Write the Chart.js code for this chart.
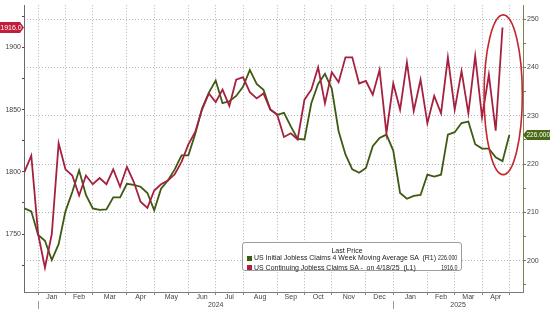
<!DOCTYPE html>
<html>
<head>
<meta charset="utf-8">
<script src="https://cdn.jsdelivr.net/npm/chart.js@4.4.1/dist/chart.umd.min.js"></script>
<style>
  html, body { margin: 0; padding: 0; background: #fff; }
  #wrap { position: relative; width: 550px; height: 309px; overflow: hidden; }
  #legend {
    position: absolute; left: 242px; top: 242px; width: 220px; height: 29px;
    box-sizing: border-box; border: 1px solid #9c9c9c; border-radius: 3px; background: #fff;
    font: 7px 'Liberation Sans', Arial, sans-serif; color: #222; line-height: 8px;
  }
  #legend .title { position: absolute; top: 4px; left: 0; right: 10px; text-align: center; }
  #legend .row { position: absolute; left: 4px; right: 4px; height: 8px; white-space: pre; }
  #legend .sw { position: absolute; left: 0; top: 1.5px; width: 5px; height: 5px; }
  #legend .name { position: absolute; left: 6.5px; transform-origin: left center; }
  #legend .val { position: absolute; right: 0; transform-origin: right center; transform: scaleX(0.76); }
</style>
</head>
<body>
<div id="wrap">
  <canvas id="chart" width="550" height="309"></canvas>
  <div id="legend">
    <div class="title">Last Price</div>
    <div class="row" style="top:11px"><span class="sw" style="background:#3d5a10"></span><span class="name">US Initial Jobless Claims 4 Week Moving Average SA  (R1)</span><span class="val" id="valR1"></span></div>
    <div class="row" style="top:20.5px"><span class="sw" style="background:#b01f3d"></span><span class="name">US Continuing Jobless Claims SA -  on 4/18/25  (L1)</span><span class="val" id="valL1"></span></div>
  </div>
</div>
<script>
// Weekly values, thousands
const continuingClaims = [
  1800, 1813, 1750, 1723, 1750, 1823, 1802, 1797, 1781, 1797,
  1790, 1795, 1790, 1802, 1788, 1804, 1792, 1776, 1771, 1785,
  1790, 1793, 1798, 1808, 1822, 1832, 1850, 1863, 1856, 1866,
  1853, 1874, 1876, 1864, 1859, 1863, 1850, 1846, 1828, 1831,
  1826, 1858, 1866, 1884, 1855, 1880, 1872, 1892, 1892, 1871,
  1873, 1862, 1882, 1831, 1871, 1850, 1888, 1849, 1874, 1839,
  1861, 1847, 1892, 1850, 1881, 1847, 1893, 1844, 1878, 1833, 1916
];
const initialClaims4wk = [
  210.8, 210.2, 205.3, 204.1, 200.1, 203.4, 210.2, 214.2, 218.7, 213.6,
  210.8, 210.5, 210.6, 213.1, 213.1, 215.9, 215.7, 215.3, 214.0, 210.4,
  214.9, 216.6, 218.9, 221.8, 221.8, 226.2, 231.5, 234.8, 237.3, 232.6,
  233.0, 234.1, 236.0, 239.5, 236.6, 235.4, 231.3, 230.2, 230.6, 227.8,
  225.2, 225.1, 232.6, 236.6, 238.7, 235.6, 226.8, 222.0, 218.9, 218.2,
  219.2, 223.7, 225.4, 226.1, 222.8, 214.0, 212.8, 213.4, 213.6, 217.8,
  217.4, 217.8, 226.1, 226.6, 228.5, 228.8, 224.1, 223.2, 223.2, 221.4,
  220.6, 226.0
];

// x axis: week number, first week of each month
const monthLabels = ["Jan", "Feb", "Mar", "Apr", "May", "Jun", "Jul", "Aug", "Sep", "Oct", "Nov", "Dec", "Jan", "Feb", "Mar", "Apr"];
const monthStartWeek = [2, 6, 10, 15, 19, 24, 28, 32, 37, 41, 45, 50, 54, 59, 63, 67, 71];
const yearLabels = ["2024", "2025"];
const yearStartWeek = [2, 54];

const leftTicks = [1725, 1750, 1775, 1800, 1825, 1850, 1875, 1900, 1925];
const rightTicks = [195, 200, 205, 210, 215, 220, 225, 230, 235, 240, 245, 250];

const X_MIN = -0.07, X_MAX = 73;

const monthMid = monthLabels.map((m, i) => (monthStartWeek[i] + monthStartWeek[i + 1]) / 2);
const yearMid = yearStartWeek.map((w, i) => (w + (i + 1 < yearStartWeek.length ? yearStartWeek[i + 1] : X_MAX)) / 2);

const lastL1 = continuingClaims[continuingClaims.length - 1];
const lastR1 = initialClaims4wk[initialClaims4wk.length - 1];
document.getElementById("valR1").textContent = lastR1.toFixed(3);
document.getElementById("valL1").textContent = lastL1.toFixed(1);

// squeeze legend names if the font runs wide
const names = document.querySelectorAll("#legend .name");
const squeeze = Math.min(1, 182 / names[0].getBoundingClientRect().width);
names.forEach(n => { n.style.transform = "scaleX(" + squeeze + ")"; });

Chart.defaults.font.family = "'Liberation Sans', Arial, sans-serif";
Chart.defaults.font.size = 7;
Chart.defaults.color = "#444";

// month / year labels, value tags, highlight ellipse, year separators
const extras = {
  id: "extras",
  afterDraw(chart) {
    const { ctx, scales } = chart;
    const x = scales.x, yl = scales.y, yr = scales.y1;
    ctx.save();

    // month and year labels under the axis
    ctx.fillStyle = "#444";
    ctx.font = "7px 'Liberation Sans', Arial, sans-serif";
    ctx.textAlign = "center";
    ctx.textBaseline = "middle";
    monthLabels.forEach((m, i) => ctx.fillText(m, x.getPixelForValue(monthMid[i]), 297.5));
    yearLabels.forEach((m, i) => ctx.fillText(m, x.getPixelForValue(yearMid[i]), 305.5));

    // year separators
    ctx.strokeStyle = "#999";
    ctx.lineWidth = 1;
    yearStartWeek.forEach(w => {
      const px = Math.round(x.getPixelForValue(w)) + 0.5;
      ctx.beginPath();
      ctx.moveTo(px, 301);
      ctx.lineTo(px, 309);
      ctx.stroke();
    });

    // red circle around the latest weeks
    const cx = (x.getPixelForValue(67.3) + x.getPixelForValue(72.9)) / 2;
    const rx = (x.getPixelForValue(72.9) - x.getPixelForValue(67.3)) / 2;
    const top = yr.getPixelForValue(250.9), bot = yr.getPixelForValue(217.8);
    ctx.beginPath();
    ctx.ellipse(cx, (top + bot) / 2, rx, (bot - top) / 2, 0, 0, Math.PI * 2);
    ctx.strokeStyle = "#c3262f";
    ctx.lineWidth = 1.6;
    ctx.stroke();

    // left tag
    let y = yl.getPixelForValue(lastL1);
    ctx.beginPath();
    ctx.moveTo(0, y - 5.5); ctx.lineTo(20, y - 5.5); ctx.lineTo(24, y);
    ctx.lineTo(20, y + 5.5); ctx.lineTo(0, y + 5.5); ctx.closePath();
    ctx.fillStyle = "#c21d3b";
    ctx.fill();
    ctx.fillStyle = "#fff";
    ctx.fillText(lastL1.toFixed(1), 11, y + 0.5);

    // right tag
    y = yr.getPixelForValue(lastR1);
    ctx.beginPath();
    ctx.moveTo(523, y); ctx.lineTo(527, y - 5); ctx.lineTo(550, y - 5);
    ctx.lineTo(550, y + 5); ctx.lineTo(527, y + 5); ctx.closePath();
    ctx.fillStyle = "#4b6a18";
    ctx.fill();
    ctx.fillStyle = "#fff";
    ctx.font = "6.5px 'Liberation Sans', Arial, sans-serif";
    ctx.textAlign = "left";
    ctx.fillText(lastR1.toFixed(3), 526.5, y + 0.5);
    ctx.restore();
  }
};

new Chart(document.getElementById("chart"), {
  type: "line",
  data: {
    datasets: [
      {
        label: "US Continuing Jobless Claims SA",
        data: continuingClaims.map((v, i) => ({ x: i, y: v })),
        yAxisID: "y",
        borderColor: "#a5213f",
        borderWidth: 1.8,
        pointRadius: 0,
        tension: 0
      },
      {
        label: "US Initial Jobless Claims 4 Week Moving Average SA",
        data: initialClaims4wk.map((v, i) => ({ x: i, y: v })),
        yAxisID: "y1",
        borderColor: "#3e5a12",
        borderWidth: 1.8,
        pointRadius: 0,
        tension: 0
      }
    ]
  },
  options: {
    responsive: false,
    animation: false,
    devicePixelRatio: 1,
    layout: { padding: 0 },
    plugins: { legend: { display: false }, tooltip: { enabled: false } },
    scales: {
      x: {
        type: "linear", min: X_MIN, max: X_MAX,
        afterBuildTicks: s => { s.ticks = monthStartWeek.map(v => ({ value: v })); },
        afterFit: s => { s.height = 17; },
        ticks: { display: false },
        grid: { color: "#b4b4b4", tickColor: "#888", tickLength: 3, tickBorderDash: [] },
        border: { display: true, color: "#7a7a7a", dash: [1, 2] }
      },
      y: {
        type: "linear", position: "left", min: 1703.4, max: 1933.9,
        afterBuildTicks: s => { s.ticks = leftTicks.map(v => ({ value: v })); },
        afterFit: s => { s.width = 24; },
        grid: { drawOnChartArea: false, tickLength: 2, tickColor: "#8a2a3a" },
        border: { display: true, color: "#6a6a6a" },
        ticks: { padding: 1, callback: v => (v % 50 === 0 ? v : "") }
      },
      y1: {
        type: "linear", position: "right", min: 193.49, max: 252.91,
        afterBuildTicks: s => { s.ticks = rightTicks.map(v => ({ value: v })); },
        afterFit: s => { s.width = 27; },
        grid: {
          color: c => (c.tick && c.tick.value % 10 === 0 ? "#b4b4b4" : "rgba(0,0,0,0)"),
          tickColor: "#6f7a3e", tickLength: 3, tickBorderDash: []
        },
        border: { display: true, color: "#7d8050", dash: [1, 2] },
        ticks: { padding: 1, callback: v => (v % 10 === 0 ? v : "") }
      }
    }
  },
  plugins: [extras]
});
</script>
</body>
</html>
